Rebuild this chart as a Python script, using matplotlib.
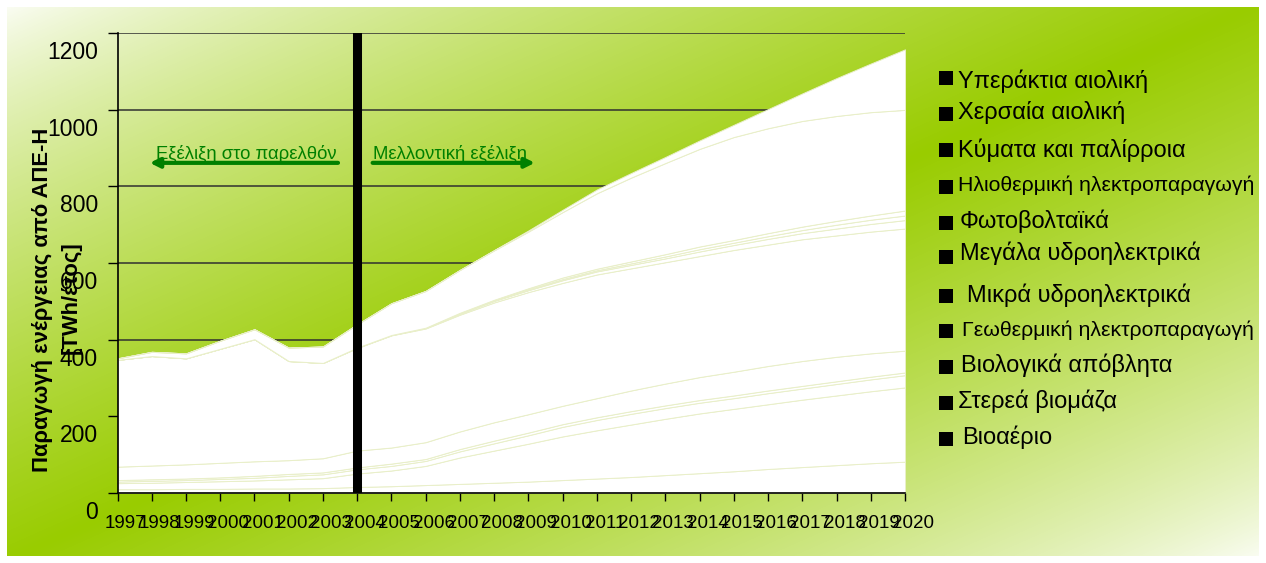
import numpy as np
import matplotlib
matplotlib.use('Agg')
import matplotlib.pyplot as plt
from matplotlib import transforms
from matplotlib.patches import Rectangle

plt.rcParams['font.family'] = ['Liberation Sans', 'DejaVu Sans']

# years on the category axis
years = [1997, 1998, 1999, 2000, 2001, 2002, 2003, 2004, 2005, 2006, 2007, 2008,
         2009, 2010, 2011, 2012, 2013, 2014, 2015, 2016, 2017, 2018, 2019, 2020]
year_labels = [str(y) for y in years]

# TWh/year per source (stack order: bottom -> top)
biogas = [9, 9, 10, 10, 11, 11, 12, 15, 17, 20, 23, 26, 29, 33, 37, 41, 46, 51, 56, 62, 67, 72, 77, 81]
solid_biomass = [16, 17, 18, 20, 21, 24, 26, 35, 41, 50, 69, 84, 99, 114, 126, 137, 147, 156, 163, 169, 176, 182, 188, 194]
bio_waste = [4, 5, 5, 6, 7, 9, 10, 11, 12, 13, 16, 19, 22, 25, 27, 28, 28, 28, 28, 29, 29, 30, 31, 32]
geothermal = [4, 4, 4, 4, 5, 5, 5, 5, 6, 5, 6, 7, 7, 7, 7, 7, 7, 7, 7, 7, 7, 7, 7, 7]
small_hydro = [35, 36, 37, 38, 38, 36, 37, 44, 42, 44, 46, 48, 48, 48, 50, 54, 57, 60, 62, 64, 65, 64, 61, 57]
large_hydro = [279, 286, 277, 298, 319, 259, 249, 268, 293, 297, 305, 313, 319, 321, 323, 319, 317, 316, 318, 317, 318, 317, 318, 319]
pv = [0, 0, 0, 0, 0, 0, 0, 1, 1, 2, 3, 4, 5, 7, 8, 9, 10, 12, 13, 15, 16, 18, 20, 22]
solar_thermal = [0, 0, 0, 0, 0, 0, 0, 0, 0, 0, 1, 1, 2, 3, 3, 4, 5, 6, 6, 7, 8, 10, 11, 12]
wave = [0, 0, 0, 0, 0, 0, 0, 0, 0, 0, 1, 2, 3, 4, 4, 5, 6, 7, 7, 8, 9, 10, 11, 13]
onshore = [4, 11, 13, 21, 26, 35, 43, 61, 83, 96, 112, 129, 148, 171, 197, 219, 238, 255, 269, 274, 276, 274, 270, 263]
offshore = [0, 0, 0, 0, 0, 0, 0, 0, 0, 0, 0, 1, 3, 6, 10, 12, 16, 22, 32, 50, 72, 99, 127, 158]

# legend entries, top to bottom
legend_labels = ['Υπεράκτια αιολική', 'Χερσαία αιολική', 'Κύματα και παλίρροια',
                 'Ηλιοθερμική ηλεκτροπαραγωγή', 'Φωτοβολταϊκά', 'Μεγάλα υδροηλεκτρικά',
                 'Μικρά υδροηλεκτρικά', 'Γεωθερμική ηλεκτροπαραγωγή', 'Βιολογικά απόβλητα',
                 'Στερεά βιομάζα', 'Βιοαέριο']

W, H = 1266, 563
fig = plt.figure(figsize=(W / 100, H / 100), dpi=100)

# diagonal green band background (white -> lime -> white)
yy, xx = np.mgrid[0:H, 0:W]
s = xx / W + yy / H
f = np.clip(1 - np.abs(s - 1), 0, 1) ** 0.75
green = np.array([0.6, 0.8, 0.0])
img = 1 - f[..., None] * (1 - green)
m = 7
img[:m, :] = 1
img[-m:, :] = 1
img[:, :m] = 1
img[:, -m:] = 1
bg = fig.add_axes([0, 0, 1, 1], zorder=0)
bg.imshow(img, aspect='auto', interpolation='bilinear')
bg.set_axis_off()

ax = fig.add_axes([117.5 / W, 1 - 492.7 / H, 787.5 / W, 459.4 / H], zorder=1)
ax.patch.set_alpha(0)

ax.stackplot(years, biogas, solid_biomass, bio_waste, geothermal, small_hydro,
             large_hydro, pv, solar_thermal, wave, onshore, offshore,
             colors=['white'] * 11, edgecolor='#e9efc9', linewidth=0.7, zorder=2)

ax.set_xlim(1997, 2020)
ax.set_ylim(0, 1200)
ax.set_yticks([0, 200, 400, 600, 800, 1000, 1200])
ax.yaxis.grid(True, color='#303030', lw=1.1)
ax.set_axisbelow(True)
ax.set_xticks(years)
ax.set_xticklabels(year_labels)
for side in ['top', 'right']:
    ax.spines[side].set_visible(False)
for side in ['left', 'bottom']:
    ax.spines[side].set_color('black')
    ax.spines[side].set_linewidth(1.2)
    ax.spines[side].set_zorder(5)
ax.tick_params(axis='y', direction='out', length=7, width=1, pad=7, labelsize=16.5)
ax.tick_params(axis='x', direction='out', length=6, width=1, pad=10, labelsize=13.5)

# labels in the original sit a bit off their ticks
dy = transforms.ScaledTranslation(0, -17 / 100, fig.dpi_scale_trans)
for lab in ax.get_yticklabels():
    lab.set_transform(lab.get_transform() + dy)
dx = transforms.ScaledTranslation(8 / 100, 0, fig.dpi_scale_trans)
for lab in ax.get_xticklabels():
    lab.set_transform(lab.get_transform() + dx)

# past / future divider
ax.axvline(2004, color='black', lw=6.5, zorder=4)

arrow_green = '#008000'
ax.text(0.164, 0.727, 'Εξέλιξη στο παρελθόν', transform=ax.transAxes, color=arrow_green,
        fontsize=13.3, ha='center', va='baseline', zorder=6)
ax.annotate('', xy=(0.041, 0.718), xytext=(0.280, 0.718), xycoords='axes fraction',
            arrowprops=dict(arrowstyle='-|>', color=arrow_green, lw=3, mutation_scale=14,
                            shrinkA=0, shrinkB=0), zorder=6)
ax.text(0.422, 0.727, 'Μελλοντική εξέλιξη', transform=ax.transAxes, color=arrow_green,
        fontsize=13.3, ha='center', va='baseline', zorder=6)
ax.annotate('', xy=(0.530, 0.718), xytext=(0.324, 0.718), xycoords='axes fraction',
            arrowprops=dict(arrowstyle='-|>', color=arrow_green, lw=3, mutation_scale=14,
                            shrinkA=0, shrinkB=0), zorder=6)

# y axis title (two lines, bold)
fig.text(43 / W, 1 - 300 / H, 'Παραγωγή ενέργειας από ΑΠΕ-Η', rotation=90, fontsize=15.8,
         fontweight='bold', ha='center', va='center')
fig.text(71 / W, 1 - 298 / H, '[TWh/έτος]', rotation=90, fontsize=15.8,
         fontweight='bold', ha='center', va='center')

# hand-placed legend, as in the original slide
leg_y = [77.5, 113.7, 150, 187, 223, 257.5, 296, 331, 367, 403, 439]
leg_tx = [958, 958, 958, 958, 960, 960, 967, 962, 961, 958, 962]
leg_ty = [81, 112, 150, 185, 221, 253, 295, 330, 365, 401, 437]
leg_fs = [17, 17, 17, 15.3, 17, 17, 17, 15.3, 17, 17, 17]
sq = 14
for lab, ys, tx, ty, fs in zip(legend_labels, leg_y, leg_tx, leg_ty, leg_fs):
    fig.patches.append(Rectangle((939 / W, 1 - (ys + sq / 2) / H), sq / W, sq / H,
                                 transform=fig.transFigure, facecolor='black',
                                 edgecolor='none', zorder=3))
    fig.text(tx / W, 1 - ty / H, lab, fontsize=fs, ha='left', va='center')

fig.savefig('out.png', dpi=100)
